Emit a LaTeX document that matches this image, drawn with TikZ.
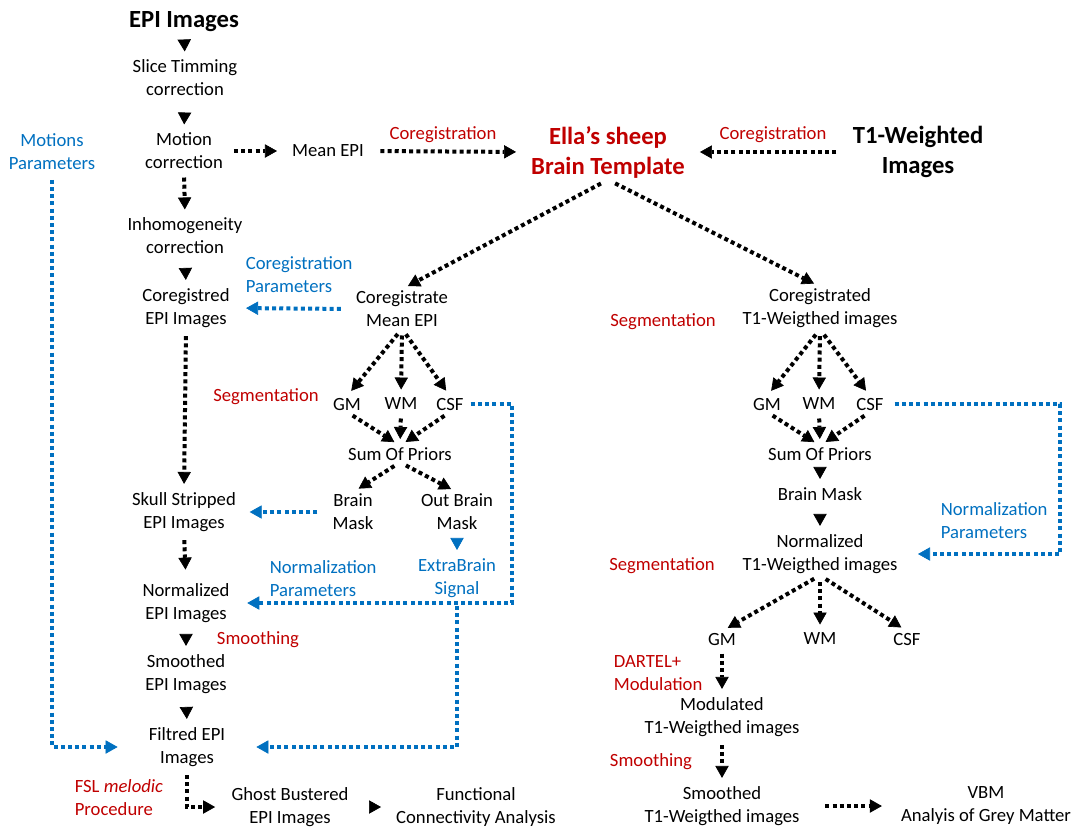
\documentclass[tikz,border=0pt]{standalone}
\usepackage{fontspec}
\setmainfont{Carlito}
\usetikzlibrary{arrows.meta}
\definecolor{redlbl}{RGB}{192,0,0}
\definecolor{bluelbl}{RGB}{0,112,192}

\tikzset{every picture/.style={line width=0.75pt}}
\tikzset{
  txt/.style={align=center, inner sep=1pt, font=\fontsize{14}{17.25}\selectfont},
  ttl/.style={align=center, inner sep=1pt, font=\fontsize{18.5}{22.5}\selectfont\bfseries},
  redtxt/.style={txt, text=redlbl},
  bluetxt/.style={txt, text=bluelbl},
  solidtip/.style={draw=white, -{Triangle[length=9pt,width=10pt,line width=0.5pt,color=black,fill=black]}, shorten <=1pt, shorten >=5pt},
  bluetip/.style={draw=white, -{Triangle[length=9pt,width=10pt,line width=0.5pt,color=bluelbl,fill=bluelbl]}, shorten <=1pt, shorten >=5pt},
  dotarr/.style={line width=3pt, dash pattern=on 3pt off 2.4pt, -{Triangle[length=9pt,width=10pt,line width=0.5pt]}, shorten <=5pt, shorten >=5pt},
  bluedot/.style={dotarr, color=bluelbl}
}

\begin{document}
\begin{tikzpicture}[x=0.75pt,y=0.75pt,yscale=-1,xscale=1]
  \useasboundingbox (0,0) rectangle (1081,832);

  % EPI column
  \node[ttl] (epi) at (184,22) {EPI Images};
  \node[txt] (stc) at (185,78) {Slice Timming\\correction};
  \node[txt] (moc) at (184,151) {Motion\\correction};
  \node[txt] (inh) at (185,236) {Inhomogeneity\\correction};
  \node[txt] (cepi) at (186,308) {Coregistred\\EPI Images};
  \node[txt] (skull) at (184,512) {Skull Stripped\\EPI Images};
  \node[txt] (nepi) at (186,603) {Normalized\\EPI Images};
  \node[txt] (sepi) at (186,674) {Smoothed\\EPI Images};
  \node[txt] (filt) at (187,747) {Filtred EPI\\Images};
  \node[txt] (ghost) at (290,807) {Ghost Bustered\\EPI Images};
  \node[txt] (fca) at (476,807) {Functional\\Connectivity Analysis};
  \node[bluetxt] (motp) at (52,152) {Motions\\Parameters};
  \node[redtxt] (smo1) at (258,640) {Smoothing};
  \node[redtxt, align=left, anchor=west] (fsl) at (73,798) {FSL \textit{melodic}\\Procedure};

  % template row
  \node[txt] (mepi) at (328,151) {Mean EPI};
  \node[ttl, text=redlbl] (tmpl) at (608,152) {Ella’s sheep\\Brain Template};
  \node[ttl] (t1w) at (918,152) {T1-Weighted\\Images};
  \node[redtxt] (coreg1) at (443,135) {Coregistration};
  \node[redtxt] (coreg2) at (773,135) {Coregistration};

  % mean EPI segmentation
  \node[txt] (cme) at (402,309) {Coregistrate\\Mean EPI};
  \node[bluetxt, align=left, anchor=west] (cpar) at (244,275) {Coregistration\\Parameters};
  \node[redtxt] (seg1) at (266,397) {Segmentation};
  \node[txt] (gma) at (347,404) {GM};
  \node[txt] (wma) at (401,404) {WM};
  \node[txt] (csfa) at (450,404) {CSF};
  \node[txt] (sopa) at (400,454) {Sum Of Priors};
  \node[txt] (bm) at (353,512) {Brain\\Mask};
  \node[txt] (obm) at (457,512) {Out Brain\\Mask};
  \node[bluetxt] (ebs) at (457,578) {ExtraBrain\\Signal};
  \node[bluetxt, align=left, anchor=west] (npar) at (268,579) {Normalization\\Parameters};

  % T1 column
  \node[txt] (ct1) at (820,308) {Coregistrated\\T1-Weigthed images};
  \node[redtxt] (seg2) at (663,322) {Segmentation};
  \node[txt] (gmb) at (767,404) {GM};
  \node[txt] (wmb) at (819,404) {WM};
  \node[txt] (csfb) at (870,404) {CSF};
  \node[txt] (sopb) at (820,454) {Sum Of Priors};
  \node[txt] (bmb) at (820,494) {Brain Mask};
  \node[txt] (nt1) at (820,554) {Normalized\\T1-Weigthed images};
  \node[bluetxt, align=left, anchor=west] (npar2) at (939,521) {Normalization\\Parameters};
  \node[redtxt] (seg3) at (662,566) {Segmentation};
  \node[txt] (gmc) at (722,639) {GM};
  \node[txt] (wmc) at (820,639) {WM};
  \node[txt] (csfc) at (907,639) {CSF};
  \node[redtxt, align=left, anchor=west] (dartel) at (612,673) {DARTEL+\\Modulation};
  \node[txt] (mod) at (722,717) {Modulated\\T1-Weigthed images};
  \node[redtxt] (smo2) at (651,762) {Smoothing};
  \node[txt] (smt1) at (722,806) {Smoothed\\T1-Weigthed images};
  \node[txt] (vbm) at (986,806) {VBM\\Analyis of Grey Matter};

  % solid steps
  \draw[solidtip] (epi.south) -- (stc.north);
  \draw[solidtip] (stc.south) -- (moc.north);
  \draw[solidtip] (inh.south) -- (cepi.north);
  \draw[solidtip] (nepi.south) -- (sepi.north);
  \draw[solidtip] (sepi.south) -- (filt.north);
  \draw[solidtip, shorten >=10pt] (ghost.east) -- (fca.west);
  \draw[solidtip] (sopb.south) -- (bmb.north);
  \draw[solidtip] (bmb.south) -- (nt1.north);
  \draw[bluetip] (obm.south) -- (ebs.north);

  % dotted steps
  \draw[dotarr] (moc.south) -- (inh.north);
  \draw[dotarr, shorten <=7pt, shorten >=10pt] (moc.east) -- (mepi.west);
  \draw[dotarr, shorten <=11pt, shorten >=10pt] (mepi.east) -- (tmpl.west);
  \draw[dotarr, shorten <=11pt, shorten >=10pt] (t1w.west) -- (tmpl.east);
  \draw[dotarr, shorten <=6pt] (tmpl.south) -- (cme.north);
  \draw[dotarr, shorten <=6pt] (tmpl.south) -- (ct1.north);
  \draw[dotarr] (cepi.south) -- (skull.north);
  \draw[dotarr, shorten >=9pt] (skull.south) -- (nepi.north);
  \foreach \n in {gma,wma,csfa} \draw[dotarr] (cme.south) -- (\n.north);
  \foreach \n in {gma,wma,csfa} \draw[dotarr] (\n.south) -- (sopa.north);
  \draw[dotarr] (sopa.south) -- (bm.north);
  \draw[dotarr] (sopa.south) -- (obm.north);
  \foreach \n in {gmb,wmb,csfb} \draw[dotarr] (ct1.south) -- (\n.north);
  \foreach \n in {gmb,wmb,csfb} \draw[dotarr] (\n.south) -- (sopb.north);
  \foreach \n in {gmc,wmc,csfc} \draw[dotarr] (nt1.south) -- (\n.north);
  \draw[dotarr] (gmc.south) -- (mod.north);
  \draw[dotarr] (mod.south) -- (smt1.north);
  \draw[dotarr, shorten <=18pt, shorten >=13pt] (smt1.east) -- (vbm.west);
  \draw[dotarr, shorten >=11pt] (filt.south) |- (ghost.west);

  % parameters
  \draw[bluedot, shorten <=10pt, shorten >=11pt] (cme.west) -- (cepi.east);
  \draw[bluedot, shorten <=10pt, shorten >=9pt] (bm.west) -- (skull.east);
  \draw[bluedot, shorten <=4pt, shorten >=12pt] (csfa.east) -- ++(47,0) |- (nepi.east);
  \draw[bluedot, shorten <=5pt, shorten >=22pt] (ebs.south) |- (filt.east);
  \draw[bluedot, shorten <=6pt, shorten >=22pt] (motp.south) |- (filt.west);
  \draw[bluedot, shorten <=7pt, shorten >=14pt] (csfb.east) -- ++(175,0) |- (nt1.east);

\end{tikzpicture}
\end{document}
